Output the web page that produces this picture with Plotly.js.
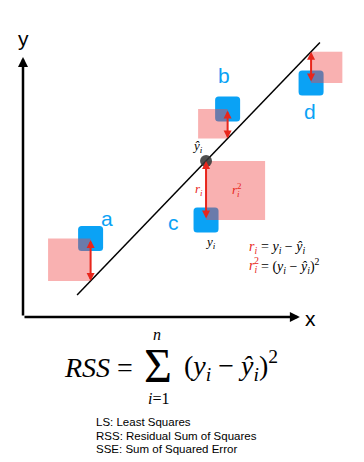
<!DOCTYPE html>
<html>
<head>
<meta charset="utf-8">
<script src="https://cdn.plot.ly/plotly-3.0.1.min.js"></script>
<style>html,body{margin:0;padding:0;background:#fff;}#chart{width:364px;height:462px;}</style>
</head>
<body>
<div id="chart"></div>
<script>
// ---- data ----
const pointLabels = ['a', 'b', 'c', 'd'];
const pointX = [2.6, 7.87, 7.04, 11.08];
const pointY = [3.02, 8.0, 3.73, 9.0];
const lineSlope = 1.04;
const lineIntercept = -1.32;
const lineX = [2.08, 11.42];
const highlightIndex = 2;
const glossary = ['LS: Least Squares', 'RSS: Residual Sum of Squares', 'SSE: Sum of Squared Error'];

// ---- styles / layout helpers ----
const BLUE = '#0aa2f5';
const RED = '#e8261c';
const SERIF = 'Liberation Serif, Times New Roman, serif';
const SANS = 'Liberation Sans, Arial, sans-serif';
const squareSide = [-1, -1, 1, 1];      // which side of the point the residual square is drawn
const labelOffset = [[0.63, 0.77], [-0.14, 1.27], [-1.27, -0.11], [-0.04, -1.08]];
const PX = 26;                              // pixels per unit
const half = 12.5 / PX, rad = 3.5 / PX;

const fit = x => lineSlope * x + lineIntercept;

function roundRect(x0, y0, x1, y1, r) {
  return `M${x0 + r},${y0} L${x1 - r},${y0} Q${x1},${y0} ${x1},${y0 + r} L${x1},${y1 - r} Q${x1},${y1} ${x1 - r},${y1} ` +
         `L${x0 + r},${y1} Q${x0},${y1} ${x0},${y1 - r} L${x0},${y0 + r} Q${x0},${y0} ${x0 + r},${y0} Z`;
}

const shapes = [];
const annotations = [];

pointX.forEach((x, i) => {
  const y = pointY[i];
  shapes.push({type: 'path', layer: 'below', path: roundRect(x - half, y - half, x + half, y + half, rad),
               fillcolor: BLUE, line: {width: 0}});
});
pointX.forEach((x, i) => {
  const y = pointY[i], yh = fit(x), r = Math.abs(y - yh);
  const xa = squareSide[i] < 0 ? x - r : x, xb = squareSide[i] < 0 ? x : x + r;
  shapes.push({type: 'rect', layer: 'below', x0: xa, x1: xb, y0: Math.min(y, yh), y1: Math.max(y, yh),
               fillcolor: 'rgba(240,70,70,0.42)', line: {width: 0}});
});

// residual arrows
pointX.forEach((x, i) => {
  annotations.push({x: x, y: fit(x), ax: x, ay: pointY[i], xref: 'x', yref: 'y', axref: 'x', ayref: 'y',
    text: '', showarrow: true, arrowhead: 2, startarrowhead: 2, arrowside: 'end+start',
    arrowsize: 0.8, startarrowsize: 0.8, arrowwidth: 2, arrowcolor: RED, standoff: 0, startstandoff: 0});
  annotations.push({x: x + labelOffset[i][0], y: pointY[i] + labelOffset[i][1], xref: 'x', yref: 'y',
    text: pointLabels[i], showarrow: false, font: {family: SANS, size: 21, color: BLUE}});
});

// axes arrows
annotations.push({x: 10.65, y: 0, ax: 0, ay: 0, xref: 'x', yref: 'y', axref: 'x', ayref: 'y', text: '',
  showarrow: true, arrowhead: 2, arrowsize: 0.8, arrowwidth: 2.5, arrowcolor: '#000', standoff: 0});
annotations.push({x: 0, y: 10.0, ax: 0, ay: 0, xref: 'x', yref: 'y', axref: 'x', ayref: 'y', text: '',
  showarrow: true, arrowhead: 2, arrowsize: 0.8, arrowwidth: 2.5, arrowcolor: '#000', standoff: 0});
annotations.push({x: 0.0, y: 10.7, xref: 'x', yref: 'y', text: 'y', showarrow: false,
  font: {family: SANS, size: 21, color: '#000'}});
annotations.push({x: 11.05, y: -0.07, xref: 'x', yref: 'y', text: 'x', showarrow: false,
  font: {family: SANS, size: 21, color: '#000'}});

// highlighted point labels
const hx = pointX[highlightIndex], hy = pointY[highlightIndex], hyh = fit(hx);
const txt = (x, y, text, size, color, anchor) => annotations.push({x, y, xref: 'x', yref: 'y', text, showarrow: false,
  xanchor: anchor || 'center', font: {family: SERIF, size, color: color || '#000'}});
txt(hx - 0.33, hyh + 0.55, '<i>ŷ<sub>i</sub></i>', 13);
txt(hx - 0.26, hyh - 1.1, '<i>r<sub>i</sub></i>', 13, RED);
txt(hx + 0.92, hyh - 1.15, '<i>r<sub>i</sub></i>', 13, RED, 'left');
txt(hx + 1.12, hyh - 0.95, '2', 9, RED, 'left');
txt(hx + 0.16, hy - 0.88, '<i>y<sub>i</sub></i>', 13);
// formula block
const fx = 8.62;
txt(fx, 2.66, '<i>r<sub>i</sub></i>', 14, RED, 'left');
txt(fx + 0.46, 2.66, '= <i>y<sub>i</sub></i> − <i>ŷ<sub>i</sub></i>', 14, null, 'left');
txt(fx, 1.95, '<i>r<sub>i</sub></i>', 14, RED, 'left');
txt(fx + 0.2, 2.17, '2', 10, RED, 'left');
txt(fx + 0.46, 1.95, '= (<i>y<sub>i</sub></i> − <i>ŷ<sub>i</sub></i>)<sup>2</sup>', 14, null, 'left');

// RSS formula
txt(2.9, -1.95, '<i>RSS</i> =', 28);
txt(5.2, -1.85, 'Σ', 48);
txt(5.15, -0.69, '<i>n</i>', 16);
txt(5.2, -3.12, '<i>i</i>=1', 16);
txt(6.1, -1.85, '(<i>y<sub>i</sub></i> − <i>ŷ<sub>i</sub></i>)<sup>2</sup>', 28, null, 'left');

glossary.forEach((g, k) => annotations.push({x: 2.72, y: -4.04 - 0.52 * k, xref: 'x', yref: 'y', text: g,
  showarrow: false, xanchor: 'left', font: {family: SANS, size: 11.5, color: '#000'}}));

const traces = [
  {x: lineX, y: lineX.map(fit), mode: 'lines', line: {color: '#000', width: 1.5}, hoverinfo: 'skip'},
  {x: [hx], y: [hyh], mode: 'markers', marker: {size: 12, color: 'rgba(55,55,55,0.88)'}, hoverinfo: 'skip'}
];

const layout = {
  width: 364, height: 462, margin: {l: 0, r: 0, t: 0, b: 0},
  paper_bgcolor: '#fff', plot_bgcolor: '#fff', showlegend: false,
  xaxis: {range: [-23 / PX, 341 / PX], visible: false, fixedrange: true},
  yaxis: {range: [-145 / PX, 317 / PX], visible: false, fixedrange: true},
  shapes, annotations
};
Plotly.newPlot('chart', traces, layout, {staticPlot: true, displayModeBar: false});
</script>
</body>
</html>
